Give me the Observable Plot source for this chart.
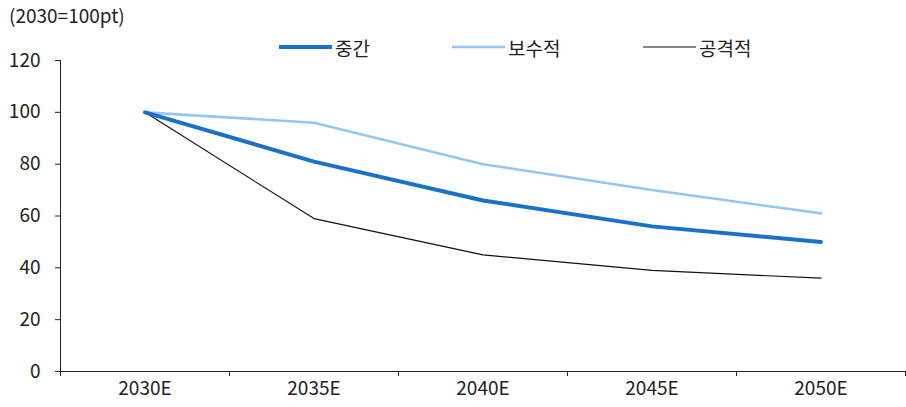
<!DOCTYPE html>
<html><head><meta charset="utf-8">
<script src="https://cdn.jsdelivr.net/npm/d3@7"></script>
<script src="https://cdn.jsdelivr.net/npm/@observablehq/plot@0.6"></script>
<style>
body{margin:0;background:#fff;font-family:"Noto Sans CJK KR","Noto Sans",sans-serif;}
#wrap{position:relative;width:906px;height:407px;}
#unit{position:absolute;left:9px;top:2px;font-size:19px;line-height:26px;color:#222;}
.leg{position:absolute;top:35px;height:24px;display:flex;align-items:center;font-size:19px;color:#222;}
.leg svg{margin-right:3px;}
</style></head>
<body><div id="wrap"><div id="unit">(2030=100pt)</div><div id="legend"></div><div id="chart"></div></div>
<script>
const categories = ["2030E","2035E","2040E","2045E","2050E"];
const seriesNames = ["중간","보수적","공격적"];
const mid = [100, 81, 66, 56, 50];
const conservative = [100, 96, 80, 70, 61];
const aggressive = [100, 59, 45, 39, 36];
const yTicks = [0,20,40,60,80,100,120];

const colors = {"중간":"#1a72c8","보수적":"#94c6f5","공격적":"#111111"};
const widths = {"중간":4,"보수적":2.6,"공격적":1.2};
const valuesBy = {"중간":mid,"보수적":conservative,"공격적":aggressive};

const data = [];
for (const s of ["공격적","보수적","중간"]) {
  valuesBy[s].forEach((v,i)=>data.push({series:s, i, cat:categories[i], value:v}));
}
const idx = categories.map((_,i)=>i);
const bounds = categories.map((_,i)=>i-0.5).concat([categories.length-0.5]);

const marks = [
  Plot.axisY(yTicks,{tickSize:5, tickPadding:15, fontSize:19, label:null, stroke:"#222"}),
  Plot.ruleX([-0.5],{stroke:"#222"}),
  Plot.ruleY([0],{stroke:"#222"}),
  Plot.axisX(bounds,{tickSize:5, tickFormat:()=>"" , label:null, stroke:"#222"}),
  Plot.axisX(idx,{tickSize:0, tickPadding:10, tickFormat:i=>categories[i], fontSize:19, label:null}),
];
for (const s of ["공격적","보수적","중간"]) {
  marks.push(Plot.line(data.filter(d=>d.series===s),{x:"i",y:"value",stroke:colors[s],strokeWidth:widths[s],strokeLinejoin:"round"}));
}

const chart = Plot.plot({
  width:906, height:407,
  marginLeft:60, marginRight:1, marginTop:60, marginBottom:36,
  style:{fontFamily:'"Noto Sans CJK KR","Noto Sans",sans-serif', color:"#222", background:"#fff"},
  x:{type:"linear", domain:[-0.5, categories.length-0.5], axis:null},
  y:{domain:[0,120], axis:null},
  marks
});
document.getElementById("chart").appendChild(chart);

const legPos = {"중간":279,"보수적":452,"공격적":643};
const legend = document.getElementById("legend");
for (const s of seriesNames) {
  const d = document.createElement("div");
  d.className="leg"; d.style.left=legPos[s]+"px";
  d.innerHTML = `<svg width="53" height="10"><line x1="0" x2="53" y1="5" y2="5" stroke="${colors[s]}" stroke-width="${widths[s]}" stroke-linecap="round"/></svg><span>${s}</span>`;
  legend.appendChild(d);
}
</script></body></html>
